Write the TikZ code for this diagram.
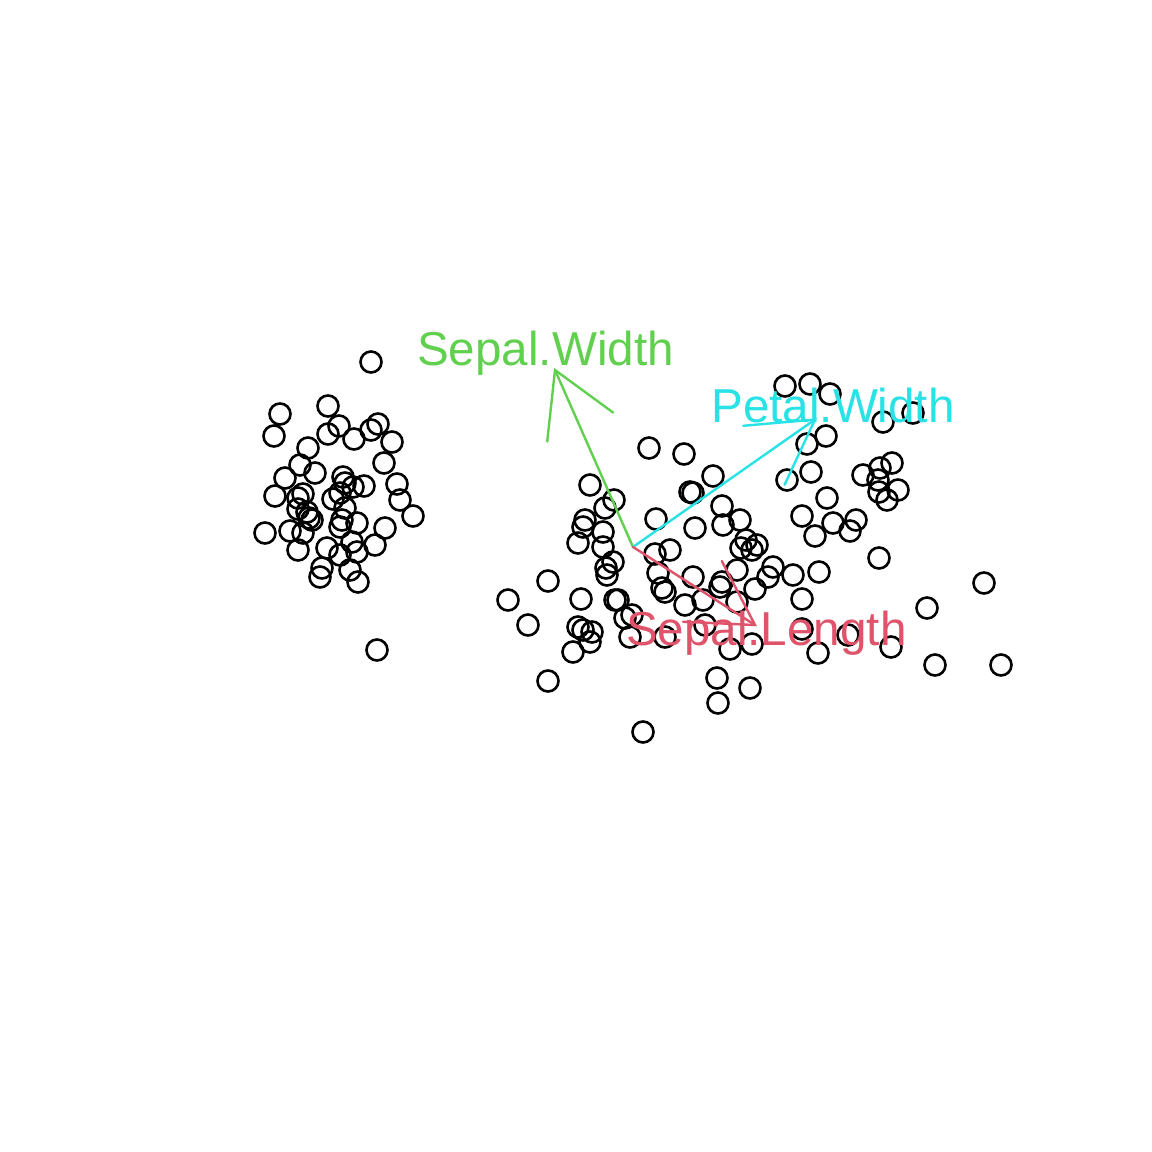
\documentclass[tikz,border=0pt]{standalone}
\usepackage{fontspec}
\setmainfont{Liberation Sans}
\usetikzlibrary{calc}
\definecolor{rred}{HTML}{DF536B}
\definecolor{rgreen}{HTML}{61D04F}
\definecolor{rcyan}{HTML}{28E2E5}
\tikzset{
  pt/.style={draw=black, line width=2.6pt},
  arr/.style={line width=2.4pt, line cap=round},
  lab/.style={anchor=base, inner sep=0pt, font=\fontsize{47.6}{50}\selectfont}
}
\begin{document}
\begin{tikzpicture}[x=1pt,y=-1pt]
\useasboundingbox (0,0) rectangle (1152,1152);
\fill[white] (0,0) rectangle (1152,1152);
% setosa
\foreach \a/\b in {371/362,280/414,328/406,274/436,328/434,339/426,354/439,371/430,378/424,392/442,308/448,384/463,300/465,315/473,285/478,343/477,345/483,353/487,364/486,397/484,275/496,298/498,303/494,333/499,340/493,345/508,400/500,413/516,298/509,307/512,309/518,312/520,342/520,340/527,357/523,385/528,265/533,290/531,303/533,352/542,357/552,375/545,298/550,327/548,340/555,322/568,320/577,350/570,358/582,377/650}
  \draw[pt] (\a,\b) circle[radius=10.5pt];
% others
\foreach \a/\b in {590/485,614/500,605/508,585/520,583/527,603/532,578/543,603/547,613/562,606/568,607/575,548/581,508/600,528/625,548/681,581/599,615/600,618/600,578/627,583/630,592/632,590/642,573/652,625/618,632/615,630/637,665/637,643/732,717/678,718/703,750/688,649/448,684/454,713/476,690/492,693/493,722/506,656/519,695/528,723/525,740/520,746/540,757/545,741/548,752/550,670/550,655/554,658/573,662/588,665/592,693/577,737/570,722/582,720/587,755/589,768/577,773/567,793/575,819/572,802/599,685/605,703/600,737/602,705/625,730/649,752/644,818/653,891/647,927/608,984/583,935/665,1001/665,879/558,802/629,848/635,785/386,810/384,830/394,883/422,913/413,826/436,807/444,787/480,811/472,827/498,802/516,815/536,833/523,856/520,850/531,863/475,880/468,892/463,878/480,879/492,887/500,898/490}
  \draw[pt] (\a,\b) circle[radius=10.5pt];
% arrows
\coordinate (o) at (633,547);
\coordinate (sw) at (555,370);
\coordinate (pw) at (815,419.5);
\coordinate (sl) at (755,625);
\draw[arr, rgreen] (o) -- (sw);
\draw[arr, rgreen] ($(sw)!72pt!30:(o)$) -- (sw) -- ($(sw)!72pt!-30:(o)$);
\draw[arr, rcyan] (o) -- (pw);
\draw[arr, rcyan] ($(pw)!72pt!30:(o)$) -- (pw) -- ($(pw)!72pt!-30:(o)$);
\draw[arr, rred] (o) -- (sl);
\draw[arr, rred] ($(sl)!72pt!30:(o)$) -- (sl) -- ($(sl)!72pt!-30:(o)$);
% labels
\node[lab, text=rgreen] (tsw) at (545.5,365) {Sepal.Width};
\node[lab, text=rcyan] (tpw) at (833,422.7) {Petal.Width};
\node[lab, text=rred] (tsl) at (766.3,645) {Sepal.Length};
\end{tikzpicture}
\end{document}
